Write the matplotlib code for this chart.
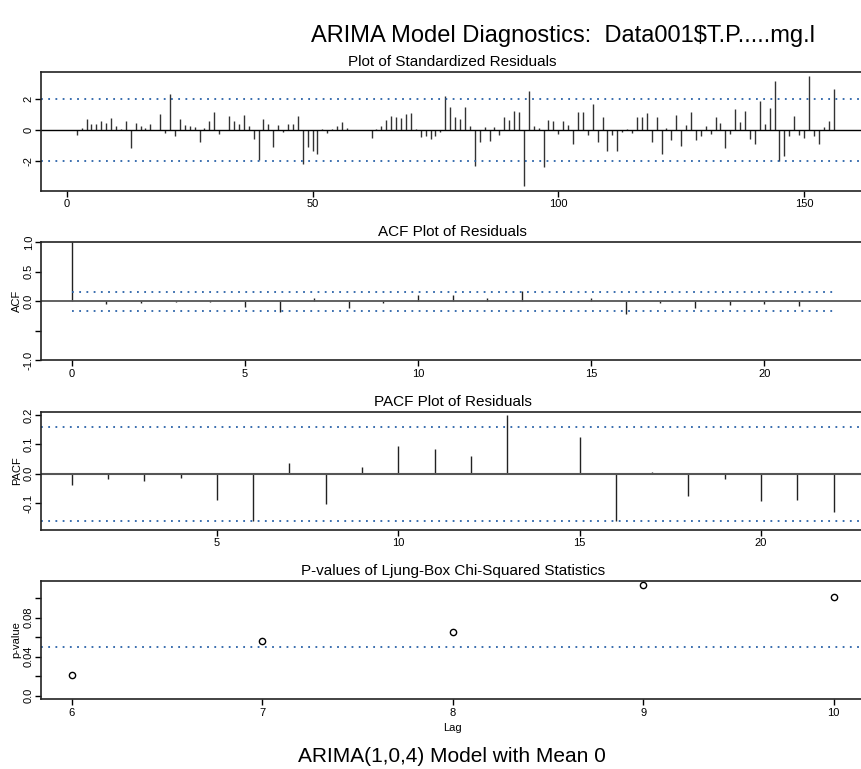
import matplotlib.pyplot as plt
import numpy as np

W, H = 861, 769
plt.rcParams['font.family'] = ['Liberation Sans', 'DejaVu Sans']

# standardized residuals, t = 1..156
resid = [0.0, -0.3, 0.15, 0.72, 0.4, 0.4, 0.6, 0.47, 0.79, 0.28,
         0.08, 0.6, -1.15, 0.47, 0.28, 0.15, 0.4, 0.05, 1.04, -0.15,
         2.36, -0.34, 0.72, 0.34, 0.28, 0.21, -0.77, 0.13, 0.6, 1.17,
         -0.21, 0.02, 0.91, 0.6, 0.4, 0.98, 0.28, -0.57, -1.9, 0.72,
         0.4, -1.04, 0.34, -0.1, 0.4, 0.4, 0.91, -2.15, -1.04, -1.36,
         -1.51, 0.06, -0.15, 0.08, 0.28, 0.53, 0.13, 0.04, 0.02, 0.02,
         0.02, -0.47, 0.08, 0.26, 0.66, 0.91, 0.85, 0.79, 1.04, 1.1,
         0.08, -0.4, -0.36, -0.53, -0.36, -0.08, 2.2, 1.47, 0.85, 0.72,
         1.49, 0.28, -2.28, -0.72, 0.21, -0.66, 0.21, -0.3, 0.85, 0.66,
         1.23, 1.15, -3.6, 2.53, 0.28, 0.13, -2.34, 0.66, 0.57, -0.21,
         0.57, 0.36, -0.91, 1.17, 1.17, -0.3, 1.72, -0.77, 0.85, -1.34,
         -0.3, -1.34, -0.08, 0.08, -0.17, 0.87, 0.87, 1.1, -0.77, 0.85,
         -1.49, 0.15, -0.64, 0.98, -1.02, 0.34, 1.15, -0.6, -0.34, 0.26,
         -0.26, 0.85, 0.47, -1.13, -0.21, 1.36, 0.53, 1.23, -0.57, -0.85,
         1.89, 0.4, 1.43, 3.17, -1.94, -1.62, -0.34, 0.91, -0.28, -0.47,
         3.47, -0.34, -0.85, 0.21, 0.6, 2.66]

acf_lags = list(range(0, 23))
acf_vals = [1.0, -0.045, -0.03, -0.02, -0.02, -0.1, -0.18, 0.06, -0.11, -0.03,
            0.1, 0.1, 0.06, 0.17, 0.005, 0.06, -0.21, -0.03, -0.12, -0.06,
            -0.05, -0.085, -0.005]

pacf_lags = list(range(1, 23))
pacf_vals = [-0.037, -0.016, -0.024, -0.015, -0.089, -0.161, 0.037, -0.104, 0.023, 0.095,
             0.084, 0.061, 0.2, 0.002, 0.125, -0.16, 0.006, -0.075, -0.018, -0.094,
             -0.088, -0.13]

lb_lags = [6, 7, 8, 9, 10]
lb_pvals = [0.021, 0.056, 0.065, 0.1135, 0.101]

conf = 0.16
blue = '#2a62a8'

fig = plt.figure(figsize=(W / 100, H / 100), dpi=100)


def panel(l, t, r, b):
    ax = fig.add_axes([l / W, 1 - b / H, (r - l) / W, (b - t) / H])
    for s in ax.spines.values():
        s.set_linewidth(1.2)
        s.set_color('#222222')
    ax.tick_params(direction='out', length=4, width=1, labelsize=8, pad=2)
    ax.tick_params(axis='y', pad=1.5)
    return ax


def dotted(ax, y, x0=None, x1=None):
    if x0 is None:
        ax.axhline(y, color=blue, lw=1.3, ls=(0, (1, 3)))
    else:
        ax.hlines(y, x0, x1, color=blue, lw=1.3, ls=(0, (1, 3)))


def ylabels(ax, ticks, labels):
    ax.set_yticks(ticks)
    ax.set_yticklabels(labels, rotation=90, va='center')


# residuals
ax1 = panel(41.3, 72, 864, 190.7)
t = np.arange(1, len(resid) + 1)
ax1.vlines(t, 0, resid, color='#333333', lw=1)
ax1.axhline(0, color='black', lw=1)
dotted(ax1, 2)
dotted(ax1, -2)
ax1.set_xlim(-5.2, 162.2)
ax1.set_ylim(-3.88, 3.75)
ax1.set_xticks([0, 50, 100, 150])
ylabels(ax1, [-2, 0, 2], ['-2', '0', '2'])
ax1.set_title('Plot of Standardized Residuals', fontsize=11, pad=4)

# ACF
ax2 = panel(41.3, 242, 864, 360.3)
ax2.vlines(acf_lags, 0, acf_vals, color='#222222', lw=1)
ax2.axhline(0, color='#555555', lw=1.3)
dotted(ax2, conf, 0, 22)
dotted(ax2, -conf, 0, 22)
ax2.set_xlim(-0.88, 22.88)
ax2.set_ylim(-1, 1)
ax2.set_xticks([0, 5, 10, 15, 20])
ylabels(ax2, [-1, -0.5, 0, 0.5, 1], ['-1.0', '', '0.0', '0.5', '1.0'])
ax2.set_title('ACF Plot of Residuals', fontsize=11, pad=4)
fig.text(17 / W, 1 - 301 / H, 'ACF', rotation=90, ha='center', va='center', fontsize=8)

# PACF
ax3 = panel(41.3, 411.7, 864, 530)
ax3.vlines(pacf_lags, 0, pacf_vals, color='#222222', lw=1)
ax3.axhline(0, color='#555555', lw=1.5)
dotted(ax3, conf)
dotted(ax3, -conf)
ax3.set_xlim(0.16, 22.84)
ax3.set_ylim(-0.191, 0.211)
ax3.set_xticks([5, 10, 15, 20])
ylabels(ax3, [-0.1, 0, 0.1, 0.2], ['-0.1', '0.0', '0.1', '0.2'])
ax3.set_title('PACF Plot of Residuals', fontsize=11, pad=4)
fig.text(17 / W, 1 - 471 / H, 'PACF', rotation=90, ha='center', va='center', fontsize=8)

# Ljung-Box p-values
ax4 = panel(41.3, 580.7, 864, 699.3)
ax4.plot(lb_lags, lb_pvals, 'o', mfc='none', mec='black', ms=4.5, mew=1)
dotted(ax4, 0.05)
ax4.set_xlim(5.84, 10.16)
ax4.set_ylim(-0.0037, 0.118)
ax4.set_xticks(lb_lags)
ylabels(ax4, [0, 0.02, 0.04, 0.06, 0.08, 0.10], ['0.0', '', '0.04', '', '0.08', ''])
ax4.set_title('P-values of Ljung-Box Chi-Squared Statistics', fontsize=11, pad=4)
fig.text(16 / W, 1 - 640 / H, 'p-value', rotation=90, ha='center', va='center', fontsize=8)
fig.text(452 / W, 1 - 728 / H, 'Lag', ha='center', va='center', fontsize=8)

fig.text(563 / W, 1 - 42 / H, 'ARIMA Model Diagnostics:  Data001$T.P.....mg.l',
         ha='center', va='baseline', fontsize=17)
fig.text(452 / W, 1 - 756 / H, 'ARIMA(1,0,4) Model with Mean 0',
         ha='center', va='center', fontsize=15)

fig.savefig('out.png', dpi=100)
